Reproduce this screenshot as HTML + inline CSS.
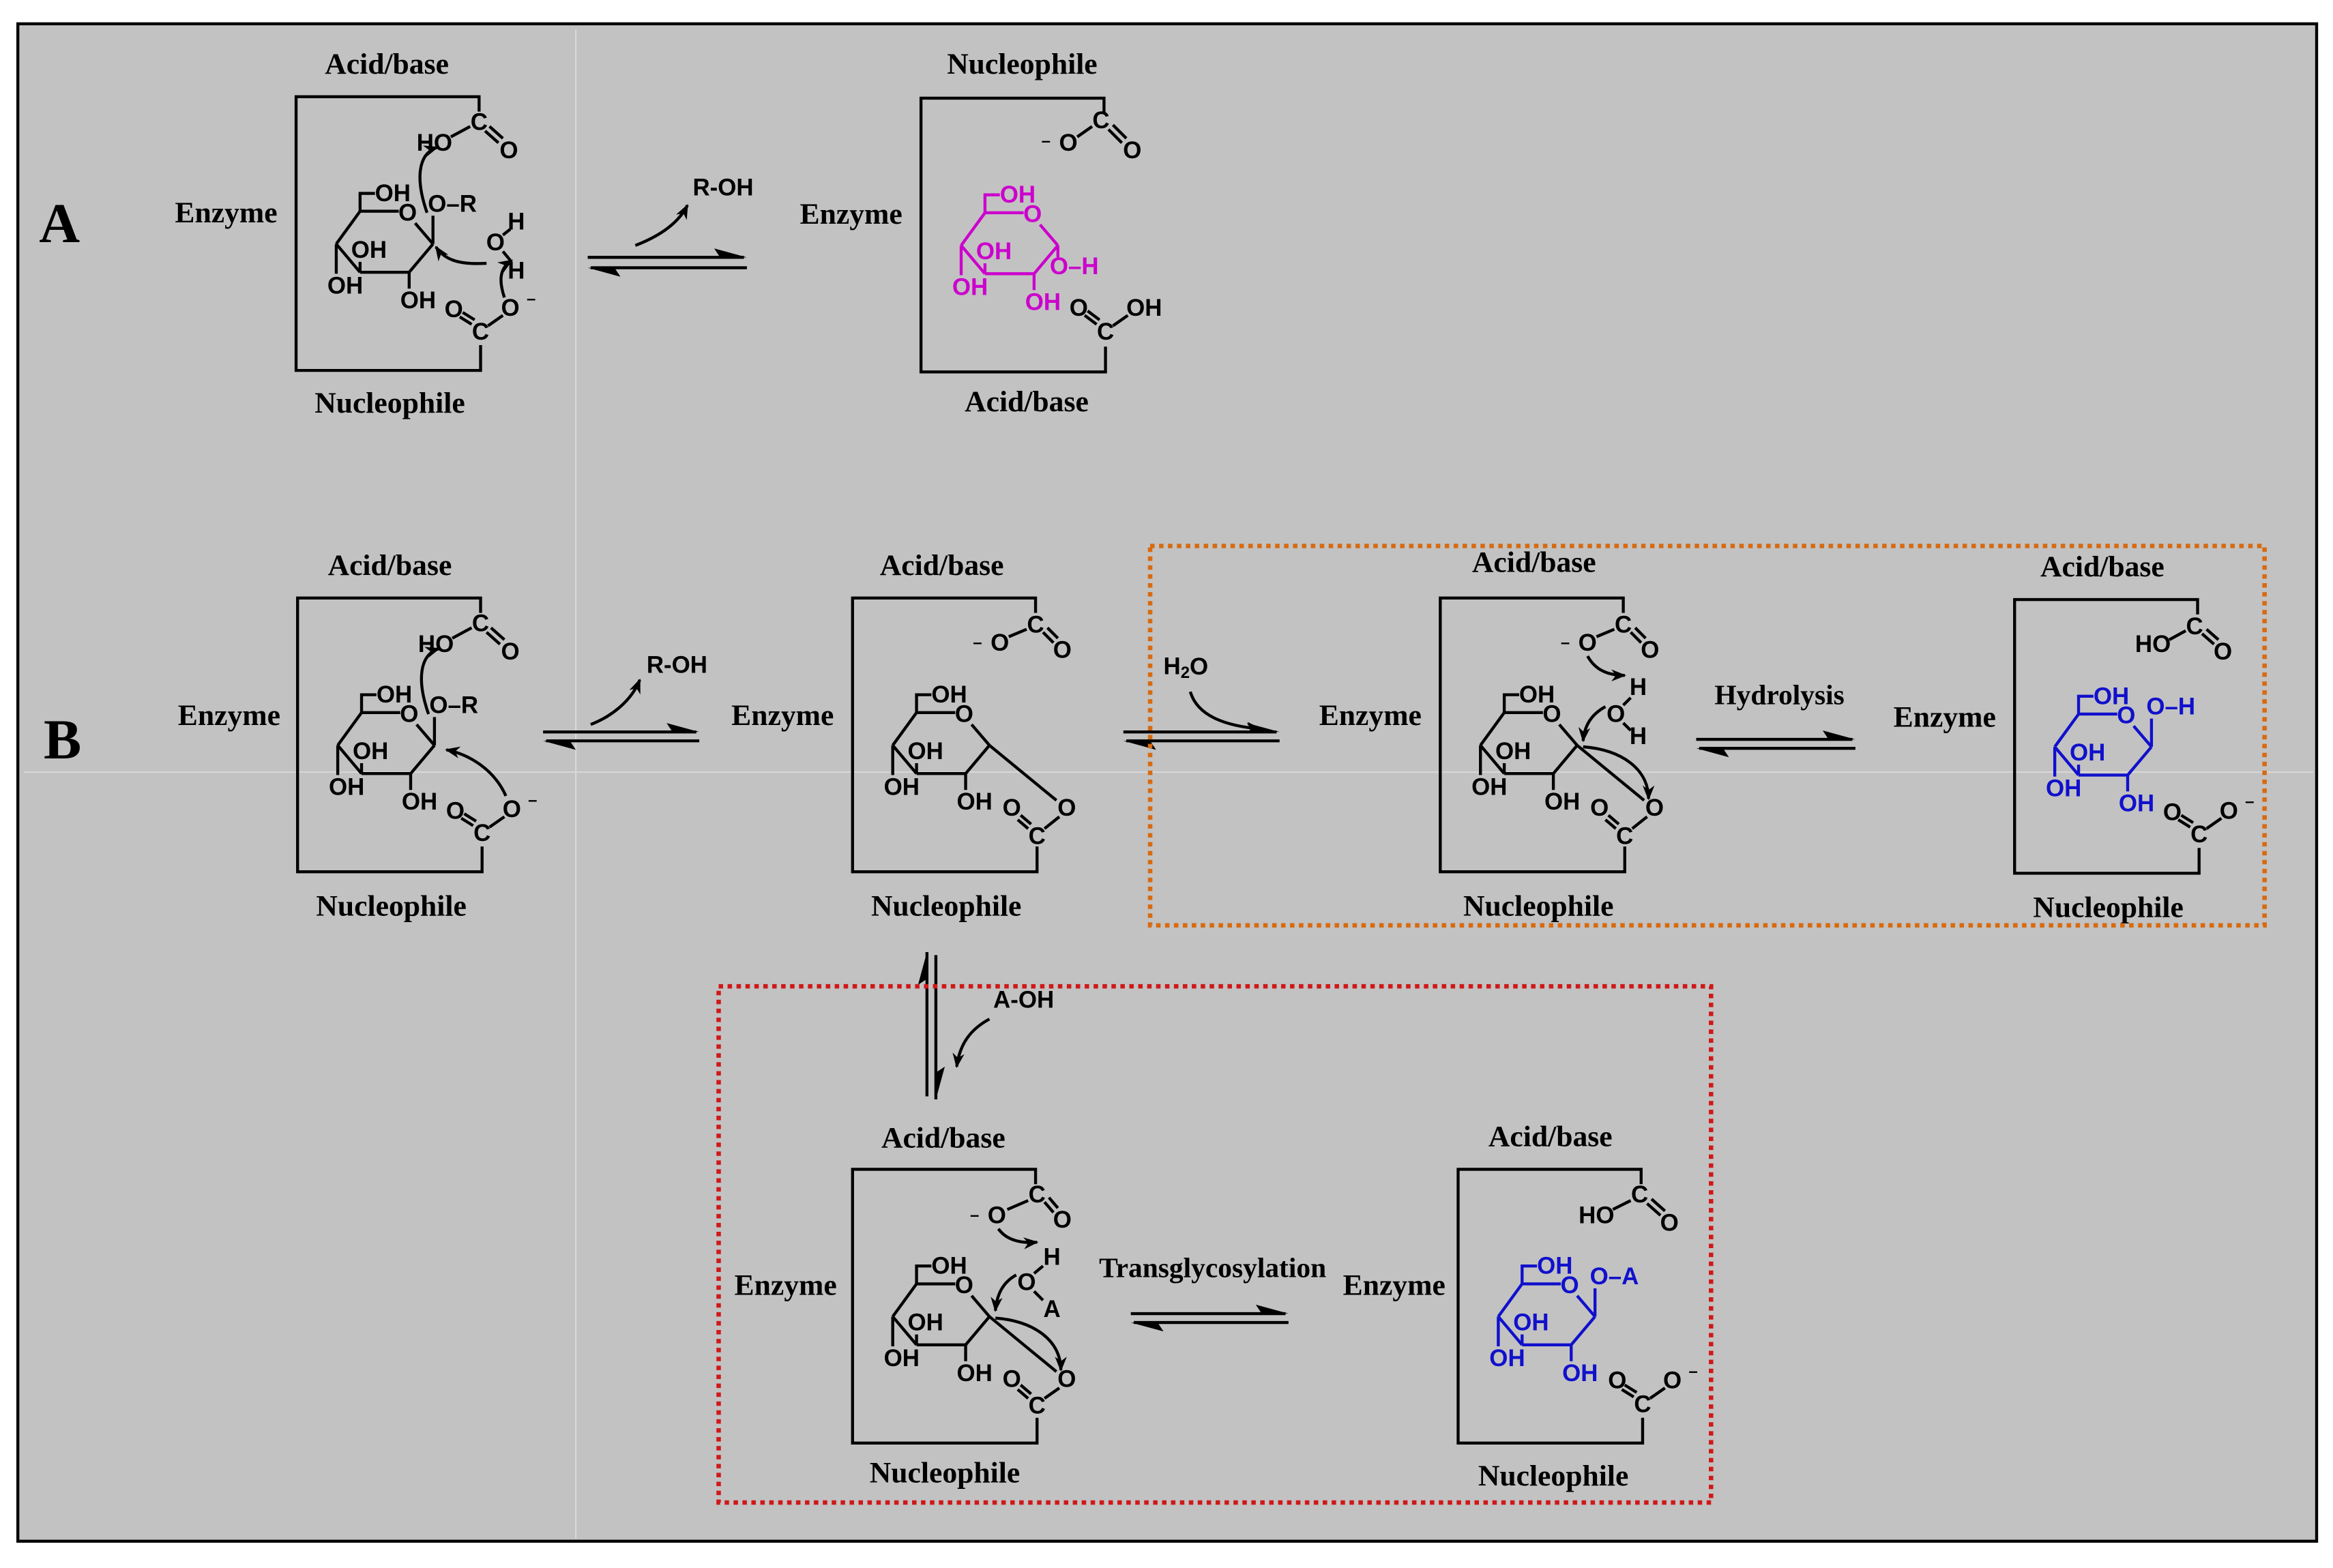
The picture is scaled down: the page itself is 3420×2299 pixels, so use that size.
<!DOCTYPE html>
<html><head><meta charset="utf-8"><style>
html,body{margin:0;padding:0;background:#fff}
svg{display:block}
.s{font-family:"Liberation Sans",sans-serif;font-weight:bold;font-size:16px;text-anchor:middle;dominant-baseline:central}
.l{font-family:"Liberation Serif",serif;font-weight:bold;font-size:20px;text-anchor:middle;dominant-baseline:central}
.big{font-family:"Liberation Serif",serif;font-weight:bold;font-size:38px;text-anchor:middle;dominant-baseline:central}
</style></head><body>
<svg width="3420" height="2299" viewBox="0 0 1568 1054" preserveAspectRatio="none" xmlns="http://www.w3.org/2000/svg">
<defs>
<marker id="ah" markerWidth="10" markerHeight="8" refX="9" refY="4" orient="auto" markerUnits="userSpaceOnUse"><path d="M0,0 L10,4 L0,8 L3,4 z" fill="#000"/></marker>
<g id="ring" fill="none" stroke-width="2">
<line x1="27" y1="99" x2="43" y2="77"/><line x1="43" y1="77" x2="69" y2="77"/>
<line x1="80" y1="85" x2="92" y2="99"/><line x1="92" y1="99" x2="76" y2="118"/>
<line x1="76" y1="118" x2="43" y2="118"/><line x1="43" y1="118" x2="27" y2="99"/>
<polyline points="43,77 43,65 53,65"/>
<line x1="27" y1="99" x2="27" y2="119"/><line x1="43" y1="118" x2="43" y2="111"/>
<line x1="76" y1="118" x2="76" y2="129"/>
</g>
<g id="box" fill="none" stroke="#000" stroke-width="2">
<polyline points="123,10 123,0 0,0 0,184 124,184 124,167"/>
</g>
</defs>
<rect x="0" y="0" width="1568" height="1054" fill="#fff"/>
<rect x="12" y="16" width="1545" height="1020" fill="#c2c2c2" stroke="#000" stroke-width="2"/>
<line x1="387" y1="20" x2="387" y2="1034" stroke="#d8d8d8" stroke-width="1"/>
<line x1="16" y1="519" x2="1555" y2="519" stroke="#d8d8d8" stroke-width="1"/>

<text class="big" x="40" y="150">A</text>
<text class="big" x="42" y="497">B</text>

<!-- A1 -->
<text class="l" x="260" y="43">Acid/base</text><text class="l" x="262" y="271">Nucleophile</text><text class="l" x="152" y="143">Enzyme</text>
<g transform="translate(199,65)">
<use href="#box"/><use href="#ring" stroke="#000"/>
<g class="s" fill="#000"><text x="65" y="65">OH</text><text x="75" y="78">O</text><text x="49" y="103">OH</text><text x="33" y="127">OH</text><text x="82" y="137">OH</text>
<text x="105" y="72">O–R</text><text x="123" y="17">C</text><text x="93" y="31">HO</text><text x="143" y="36">O</text>
<text x="148" y="84">H</text><text x="134" y="98">O</text><text x="148" y="117">H</text>
<text x="124" y="158">C</text><text x="106" y="143">O</text><text x="144" y="142">O</text><text x="158" y="136" style="font-size:11px">–</text></g>
<g stroke="#000" stroke-width="2" fill="none">
<line x1="92" y1="99" x2="92" y2="80"/>
<line x1="117" y1="20" x2="104" y2="27"/><line x1="127" y1="23" x2="136" y2="31"/><line x1="130" y1="20" x2="139" y2="28"/>
<line x1="139" y1="93" x2="144" y2="89"/><line x1="139" y1="104" x2="144" y2="110"/>
<line x1="118" y1="153" x2="110" y2="148"/><line x1="120" y1="150" x2="112" y2="145"/><line x1="129" y1="154" x2="139" y2="147"/>
<path d="M88 78 C80 55 82 38 95 34" marker-end="url(#ah)"/>
<path d="M128 112 C110 113 100 110 94 101" marker-end="url(#ah)"/>
<path d="M140 135 C136 123 137 115 145 110" marker-end="url(#ah)"/>
</g></g>

<!-- eq A -->
<g stroke="#000" stroke-width="2"><line x1="395" y1="173" x2="500" y2="173"/><line x1="397" y1="180" x2="502" y2="180"/></g>
<polygon points="502,173 480,167 484,173" fill="#000"/><polygon points="395,180 417,186 413,180" fill="#000"/>
<text class="s" x="486" y="126">R-OH</text>
<path d="M427 165 C440 160 455 152 462 138" stroke="#000" stroke-width="2" fill="none" marker-end="url(#ah)"/>

<!-- A2 -->
<text class="l" x="687" y="43">Nucleophile</text><text class="l" x="690" y="270">Acid/base</text><text class="l" x="572" y="144">Enzyme</text>
<g transform="translate(619,66)">
<use href="#box"/><use href="#ring" stroke="#cc00cc"/>
<g class="s" fill="#cc00cc"><text x="65" y="65">OH</text><text x="75" y="78">O</text><text x="49" y="103">OH</text><text x="33" y="127">OH</text><text x="82" y="137">OH</text><text x="103" y="113">O–H</text></g>
<g class="s" fill="#000"><text x="84" y="29" style="font-size:11px">–</text><text x="99" y="30">O</text><text x="121" y="15">C</text><text x="142" y="35">O</text>
<text x="124" y="157">C</text><text x="106" y="141">O</text><text x="150" y="141">OH</text></g>
<g stroke="#000" stroke-width="2" fill="none">
<line x1="105" y1="26" x2="115" y2="19"/><line x1="126" y1="21" x2="135" y2="30"/><line x1="129" y1="18" x2="138" y2="27"/>
<line x1="118" y1="152" x2="110" y2="146"/><line x1="120" y1="149" x2="112" y2="143"/><line x1="129" y1="153" x2="139" y2="146"/>
</g><line x1="92" y1="99" x2="92" y2="107" stroke="#cc00cc" stroke-width="2"/></g>

<!-- B1 -->
<text class="l" x="262" y="380">Acid/base</text><text class="l" x="263" y="609">Nucleophile</text><text class="l" x="154" y="481">Enzyme</text>
<g transform="translate(200,402)">
<use href="#box"/><use href="#ring" stroke="#000"/>
<g class="s" fill="#000"><text x="65" y="65">OH</text><text x="75" y="78">O</text><text x="49" y="103">OH</text><text x="33" y="127">OH</text><text x="82" y="137">OH</text>
<text x="105" y="72">O–R</text><text x="123" y="17">C</text><text x="93" y="31">HO</text><text x="143" y="36">O</text>
<text x="124" y="158">C</text><text x="106" y="143">O</text><text x="144" y="142">O</text><text x="158" y="136" style="font-size:11px">–</text></g>
<g stroke="#000" stroke-width="2" fill="none">
<line x1="92" y1="99" x2="92" y2="80"/>
<line x1="117" y1="20" x2="104" y2="27"/><line x1="127" y1="23" x2="136" y2="31"/><line x1="130" y1="20" x2="139" y2="28"/>
<line x1="118" y1="153" x2="110" y2="148"/><line x1="120" y1="150" x2="112" y2="145"/><line x1="129" y1="154" x2="139" y2="147"/>
<path d="M88 78 C80 55 82 38 95 34" marker-end="url(#ah)"/>
<path d="M140 133 C132 115 115 105 100 102" marker-end="url(#ah)"/>
</g></g>

<!-- eq B1 -->
<g stroke="#000" stroke-width="2"><line x1="365" y1="492" x2="468" y2="492"/><line x1="367" y1="498" x2="470" y2="498"/></g>
<polygon points="470,492 448,486 452,492" fill="#000"/><polygon points="365,498 387,504 383,498" fill="#000"/>
<text class="s" x="455" y="447">R-OH</text>
<path d="M397 487 C410 482 424 472 430 457" stroke="#000" stroke-width="2" fill="none" marker-end="url(#ah)"/>

<!-- B2 -->
<text class="l" x="633" y="380">Acid/base</text><text class="l" x="636" y="609">Nucleophile</text><text class="l" x="526" y="481">Enzyme</text>
<g transform="translate(573,402)">
<use href="#box"/><use href="#ring" stroke="#000"/>
<g class="s" fill="#000"><text x="65" y="65">OH</text><text x="75" y="78">O</text><text x="49" y="103">OH</text><text x="33" y="127">OH</text><text x="82" y="137">OH</text>
<text x="84" y="30" style="font-size:11px">–</text><text x="99" y="30">O</text><text x="123" y="18">C</text><text x="141" y="35">O</text>
<text x="124" y="160">C</text><text x="107" y="141">O</text><text x="144" y="141">O</text></g>
<g stroke="#000" stroke-width="2" fill="none">
<line x1="105" y1="26" x2="117" y2="21"/><line x1="128" y1="23" x2="135" y2="30"/><line x1="131" y1="20" x2="138" y2="27"/>
<line x1="118" y1="155" x2="111" y2="149"/><line x1="120" y1="152" x2="113" y2="146"/><line x1="129" y1="155" x2="139" y2="147"/>
<line x1="92" y1="99" x2="137" y2="136"/>
</g></g>

<!-- eq B2 + H2O -->
<g stroke="#000" stroke-width="2"><line x1="755" y1="492" x2="858" y2="492"/><line x1="757" y1="498" x2="860" y2="498"/></g>
<polygon points="860,492 838,486 842,492" fill="#000"/><polygon points="755,498 777,504 773,498" fill="#000"/>
<text class="s" x="797" y="448">H<tspan dy="4" style="font-size:11px">2</tspan><tspan dy="-4">O</tspan></text>
<path d="M800 465 C805 482 825 488 847 490" stroke="#000" stroke-width="2" fill="none" marker-end="url(#ah)"/>

<!-- B3 -->
<text class="l" x="1031" y="378">Acid/base</text><text class="l" x="1034" y="609">Nucleophile</text><text class="l" x="921" y="481">Enzyme</text>
<g transform="translate(968,402)">
<use href="#box"/><use href="#ring" stroke="#000"/>
<g class="s" fill="#000"><text x="65" y="65">OH</text><text x="75" y="78">O</text><text x="49" y="103">OH</text><text x="33" y="127">OH</text><text x="82" y="137">OH</text>
<text x="84" y="30" style="font-size:11px">–</text><text x="99" y="30">O</text><text x="123" y="18">C</text><text x="141" y="35">O</text>
<text x="133" y="60">H</text><text x="118" y="78">O</text><text x="133" y="93">H</text>
<text x="124" y="160">C</text><text x="107" y="141">O</text><text x="144" y="141">O</text></g>
<g stroke="#000" stroke-width="2" fill="none">
<line x1="105" y1="26" x2="117" y2="21"/><line x1="128" y1="23" x2="135" y2="30"/><line x1="131" y1="20" x2="138" y2="27"/>
<line x1="123" y1="72" x2="128" y2="67"/><line x1="123" y1="84" x2="128" y2="89"/>
<line x1="118" y1="155" x2="111" y2="149"/><line x1="120" y1="152" x2="113" y2="146"/><line x1="129" y1="155" x2="139" y2="147"/>
<line x1="92" y1="99" x2="137" y2="136"/>
<path d="M99 39 C104 48 112 52 124 52" marker-end="url(#ah)"/>
<path d="M111 73 C102 78 97 85 96 96" marker-end="url(#ah)"/>
<path d="M96 100 C122 102 140 115 140 135" marker-end="url(#ah)"/>
</g></g>

<!-- hydrolysis eq -->
<g stroke="#000" stroke-width="2"><line x1="1140" y1="497" x2="1245" y2="497"/><line x1="1142" y1="503" x2="1247" y2="503"/></g>
<polygon points="1247,497 1225,491 1229,497" fill="#000"/><polygon points="1140,503 1162,509 1158,503" fill="#000"/>
<text class="l" x="1196" y="467" style="font-size:19px">Hydrolysis</text>

<!-- B4 -->
<text class="l" x="1413" y="381">Acid/base</text><text class="l" x="1417" y="610">Nucleophile</text><text class="l" x="1307" y="482">Enzyme</text>
<g transform="translate(1354,403)">
<use href="#box"/><use href="#ring" stroke="#1010cc"/>
<g class="s" fill="#1010cc"><text x="65" y="65">OH</text><text x="75" y="78">O</text><text x="49" y="103">OH</text><text x="33" y="127">OH</text><text x="82" y="137">OH</text><text x="105" y="72">O–H</text></g>
<g class="s" fill="#000"><text x="121" y="18">C</text><text x="93" y="30">HO</text><text x="140" y="35">O</text>
<text x="124" y="158">C</text><text x="106" y="143">O</text><text x="144" y="142">O</text><text x="158" y="136" style="font-size:11px">–</text></g>
<line x1="92" y1="99" x2="92" y2="80" stroke="#1010cc" stroke-width="2"/>
<g stroke="#000" stroke-width="2" fill="none">
<line x1="115" y1="21" x2="104" y2="27"/><line x1="126" y1="23" x2="134" y2="30"/><line x1="129" y1="20" x2="137" y2="27"/>
<line x1="118" y1="153" x2="110" y2="148"/><line x1="120" y1="150" x2="112" y2="145"/><line x1="129" y1="154" x2="139" y2="147"/>
</g></g>

<!-- vertical eq -->
<g stroke="#000" stroke-width="2"><line x1="623" y1="640" x2="623" y2="737"/><line x1="629" y1="642" x2="629" y2="739"/></g>
<polygon points="623,640 617,662 623,658" fill="#000"/><polygon points="629,739 635,717 629,721" fill="#000"/>
<text class="s" x="688" y="672">A-OH</text>
<path d="M665 685 C652 692 645 702 643 717" stroke="#000" stroke-width="2" fill="none" marker-end="url(#ah)"/>

<!-- C1 -->
<text class="l" x="634" y="765">Acid/base</text><text class="l" x="635" y="990">Nucleophile</text><text class="l" x="528" y="864">Enzyme</text>
<g transform="translate(573,786)">
<use href="#box"/><use href="#ring" stroke="#000"/>
<g class="s" fill="#000"><text x="65" y="65">OH</text><text x="75" y="78">O</text><text x="49" y="103">OH</text><text x="33" y="127">OH</text><text x="82" y="137">OH</text>
<text x="82" y="31" style="font-size:11px">–</text><text x="97" y="31">O</text><text x="124" y="17">C</text><text x="141" y="34">O</text>
<text x="134" y="59">H</text><text x="117" y="76">O</text><text x="134" y="94">A</text>
<text x="124" y="159">C</text><text x="107" y="141">O</text><text x="144" y="141">O</text></g>
<g stroke="#000" stroke-width="2" fill="none">
<line x1="104" y1="27" x2="118" y2="21"/><line x1="129" y1="22" x2="135" y2="29"/><line x1="132" y1="19" x2="138" y2="26"/>
<line x1="122" y1="70" x2="128" y2="65"/><line x1="122" y1="82" x2="128" y2="88"/>
<line x1="118" y1="154" x2="111" y2="148"/><line x1="120" y1="151" x2="113" y2="145"/><line x1="129" y1="154" x2="139" y2="147"/>
<line x1="92" y1="99" x2="137" y2="136"/>
<path d="M98 40 C103 47 112 50 124 49" marker-end="url(#ah)"/>
<path d="M110 71 C101 76 97 84 96 95" marker-end="url(#ah)"/>
<path d="M96 100 C122 102 140 115 140 135" marker-end="url(#ah)"/>
</g></g>

<!-- transglycosylation eq -->
<g stroke="#000" stroke-width="2"><line x1="760" y1="883" x2="864" y2="883"/><line x1="762" y1="889" x2="866" y2="889"/></g>
<polygon points="866,883 844,877 848,883" fill="#000"/><polygon points="760,889 782,895 778,889" fill="#000"/>
<text class="l" x="815" y="852" style="font-size:19px">Transglycosylation</text>

<!-- C2 -->
<text class="l" x="1042" y="764">Acid/base</text><text class="l" x="1044" y="992">Nucleophile</text><text class="l" x="937" y="864">Enzyme</text>
<g transform="translate(980,786)">
<use href="#box"/><use href="#ring" stroke="#1010cc"/>
<g class="s" fill="#1010cc"><text x="65" y="65">OH</text><text x="75" y="78">O</text><text x="49" y="103">OH</text><text x="33" y="127">OH</text><text x="82" y="137">OH</text><text x="105" y="72">O–A</text></g>
<g class="s" fill="#000"><text x="122" y="17">C</text><text x="93" y="31">HO</text><text x="142" y="36">O</text>
<text x="124" y="158">C</text><text x="107" y="142">O</text><text x="144" y="142">O</text><text x="158" y="136" style="font-size:11px">–</text></g>
<line x1="92" y1="99" x2="92" y2="80" stroke="#1010cc" stroke-width="2"/>
<g stroke="#000" stroke-width="2" fill="none">
<line x1="116" y1="21" x2="104" y2="27"/><line x1="127" y1="23" x2="136" y2="31"/><line x1="130" y1="20" x2="139" y2="28"/>
<line x1="118" y1="153" x2="110" y2="148"/><line x1="120" y1="150" x2="112" y2="145"/><line x1="129" y1="154" x2="139" y2="147"/>
</g></g>

<!-- dashed boxes -->
<rect x="773" y="367" width="749" height="255" fill="none" stroke="#d86a10" stroke-width="3" stroke-dasharray="3,3"/>
<rect x="483" y="663" width="667" height="347" fill="none" stroke="#d01818" stroke-width="3" stroke-dasharray="3,3"/>
</svg>
</body></html>
